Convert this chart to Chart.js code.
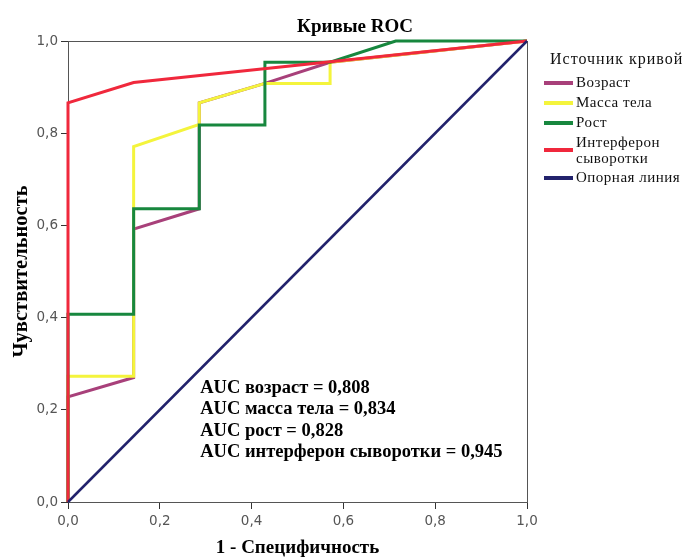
<!DOCTYPE html>
<html>
<head>
<meta charset="utf-8">
<script src="https://cdn.jsdelivr.net/npm/chart.js@4/dist/chart.umd.min.js"></script>
<style>
  body { margin: 0; background: #fff; }
  #wrap { position: relative; width: 684px; height: 560px; }
  #legend {
    position: absolute; left: 544px; top: 50px; width: 140px;
    font-family: "Liberation Serif", serif; color: #111;
  }
  #legend .ttl { font-size: 16px; letter-spacing: 1px; margin-left: 6px; margin-bottom: 6px; white-space: nowrap; }
  #legend .row { display: flex; align-items: center; font-size: 15px; letter-spacing: 0.5px; line-height: 17px; margin-bottom: 3px; }
  #legend .row.two { line-height: 16px; }
  #legend .sw { flex: none; width: 29px; height: 4px; margin-right: 3px; }
  #legend .txt { width: 108px; }
</style>
</head>
<body>
<div id="wrap">
  <canvas id="roc" width="684" height="560"></canvas>
  <div id="legend"></div>
</div>
<script>
// axis ticks (1 - specificity / sensitivity)
const tickValues = [0, 0.2, 0.4, 0.6, 0.8, 1.0];

// ROC curves
const ageFpr = [0, 0, 0.143, 0.143, 0.286, 0.286, 0.429, 0.571, 1];
const ageTpr = [0, 0.228, 0.27, 0.592, 0.636, 0.866, 0.908, 0.954, 1];

const massFpr = [0, 0, 0.143, 0.143, 0.286, 0.286, 0.429, 0.571, 0.571, 1];
const massTpr = [0, 0.273, 0.273, 0.771, 0.819, 0.866, 0.908, 0.908, 0.954, 1];

const heightFpr = [0, 0, 0.143, 0.143, 0.286, 0.286, 0.429, 0.429, 0.571, 0.714, 1];
const heightTpr = [0, 0.407, 0.407, 0.636, 0.636, 0.818, 0.818, 0.954, 0.954, 1, 1];

const ifnFpr = [0, 0, 0.143, 1];
const ifnTpr = [0, 0.866, 0.91, 1];

const refFpr = [0, 1];
const refTpr = [0, 1];

const seriesNames = ['Возраст', 'Масса тела', 'Рост', 'Интерферон сыворотки', 'Опорная линия'];
const seriesColors = ['#a8407a', '#f4f43c', '#17873e', '#f0283c', '#22226c'];

const aucLines = [
    'AUC возраст = 0,808',
    'AUC масса тела = 0,834',
    'AUC рост = 0,828',
    'AUC интерферон сыворотки = 0,945'
];

function toPoints(xs, ys) {
    return xs.map((x, i) => ({ x: x, y: ys[i] }));
}

const curves = [
    toPoints(ageFpr, ageTpr),
    toPoints(massFpr, massTpr),
    toPoints(heightFpr, heightTpr),
    toPoints(ifnFpr, ifnTpr),
    toPoints(refFpr, refTpr)
];

// later series are painted over earlier ones, like the original
const datasets = curves.map((pts, i) => ({
    label: seriesNames[i],
    data: pts,
    showLine: true,
    borderColor: seriesColors[i],
    backgroundColor: seriesColors[i],
    borderWidth: i === 4 ? 2.5 : 3,
    pointRadius: 0,
    tension: 0,
    clip: false,
    order: curves.length - i
}));

const serif = '"Liberation Serif", "Times New Roman", serif';
const sans = '"DejaVu Sans", sans-serif';
const fmt = v => v.toFixed(1).replace('.', ',');

const framePlugin = {
    id: 'frame',
    beforeDatasetsDraw(chart) {
        const { ctx, chartArea: a } = chart;
        ctx.save();
        ctx.strokeStyle = '#555';
        ctx.lineWidth = 1;
        ctx.strokeRect(a.left + 0.5, a.top + 0.5, a.right - a.left, a.bottom - a.top);
        ctx.restore();
    }
};

// chart title sits over the whole figure, not just the plot
const titlePlugin = {
    id: 'figTitle',
    afterDraw(chart) {
        const { ctx } = chart;
        ctx.save();
        ctx.font = 'bold 19px ' + serif;
        ctx.fillStyle = '#000';
        ctx.textAlign = 'center';
        ctx.textBaseline = 'middle';
        ctx.fillText('Кривые ROC', 355, 27);
        ctx.restore();
    }
};

const aucPlugin = {
    id: 'aucText',
    afterDatasetsDraw(chart) {
        const { ctx, scales } = chart;
        ctx.save();
        ctx.font = 'bold 18.5px ' + serif;
        ctx.fillStyle = '#000';
        ctx.textBaseline = 'middle';
        const left = scales.x.getPixelForValue(0.288);
        const top = scales.y.getPixelForValue(0.247);
        aucLines.forEach((t, i) => ctx.fillText(t, left, top + i * 21.5));
        ctx.restore();
    }
};

const axisGrid = {
    drawOnChartArea: false,
    drawTicks: true,
    tickLength: 7,
    color: '#333'
};

const chart = new Chart(document.getElementById('roc').getContext('2d'), {
    type: 'scatter',
    data: { datasets: datasets },
    options: {
        responsive: false,
        animation: false,
        devicePixelRatio: 1,
        layout: { padding: { left: 0, right: 157, top: 41, bottom: 0 } },
        plugins: {
            legend: { display: false },
            tooltip: { enabled: false },
            title: { display: false }
        },
        scales: {
            x: {
                type: 'linear',
                min: 0, max: 1,
                afterBuildTicks: s => { s.ticks = tickValues.map(v => ({ value: v })); },
                afterFit: s => { s.height = 58; },
                ticks: { callback: fmt, color: '#555', padding: 4, font: { family: sans, size: 13.5 } },
                grid: axisGrid,
                border: { color: '#333', width: 1 },
                title: {
                    display: true,
                    text: '1 - Специфичность',
                    color: '#000',
                    font: { family: serif, size: 19, weight: 'bold' },
                    padding: { top: 0, bottom: 1 }
                }
            },
            y: {
                type: 'linear',
                min: 0, max: 1,
                afterBuildTicks: s => { s.ticks = tickValues.map(v => ({ value: v })); },
                afterFit: s => { s.width = 68; },
                ticks: { callback: fmt, color: '#555', padding: 3, font: { family: sans, size: 13.5 } },
                grid: axisGrid,
                border: { color: '#333', width: 1 },
                title: {
                    display: true,
                    text: 'Чувствительность',
                    color: '#000',
                    font: { family: serif, size: 20.5, weight: 'bold' },
                    padding: { top: 9, bottom: 0 }
                }
            }
        }
    },
    plugins: [framePlugin, aucPlugin, titlePlugin]
});

// legend in original series order
const legend = document.getElementById('legend');
legend.innerHTML = '<div class="ttl">Источник кривой</div>' +
    chart.data.datasets.map(ds =>
        '<div class="row' + (ds.label.length > 14 ? ' two' : '') + '">' +
        '<span class="sw" style="background:' + ds.borderColor + '"></span>' +
        '<span class="txt">' + ds.label + '</span></div>'
    ).join('');
</script>
</body>
</html>
